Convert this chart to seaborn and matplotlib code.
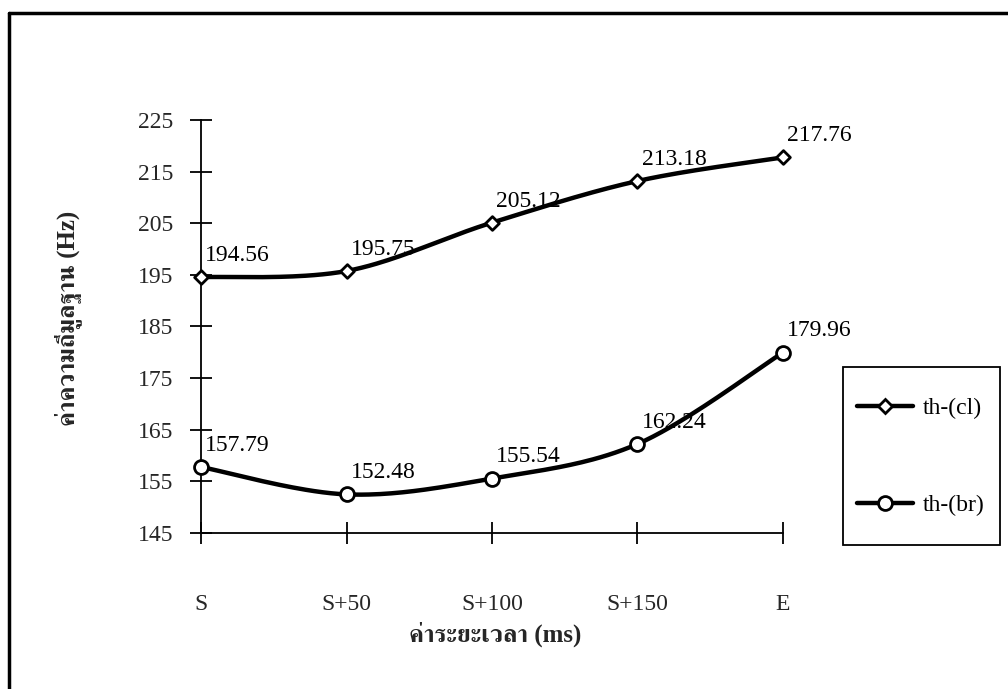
import numpy as np
import matplotlib
matplotlib.use("Agg")
import matplotlib.pyplot as plt
from matplotlib.lines import Line2D
from matplotlib.patches import Rectangle
import seaborn as sns

# data
categories = ["S", "S+50", "S+100", "S+150", "E"]
th_cl = [194.56, 195.75, 205.12, 213.18, 217.76]
th_br = [157.79, 152.48, 155.54, 162.24, 179.96]
series_names = ["th-(cl)", "th-(br)"]
y_ticks = [145, 155, 165, 175, 185, 195, 205, 215, 225]


def smooth(xv, yv, n=40):
    # excel style smoothed line (bezier through the points)
    p = np.column_stack([xv, yv]).astype(float)
    ext = np.vstack([p[0], p, p[-1]])
    out = []
    t = np.linspace(0, 1, n)[:, None]
    for i in range(len(p) - 1):
        p0, p1, p2, p3 = ext[i], ext[i + 1], ext[i + 2], ext[i + 3]
        c1 = p1 + (p2 - p0) / 6
        c2 = p2 - (p3 - p1) / 6
        seg = ((1 - t) ** 3) * p1 + 3 * ((1 - t) ** 2) * t * c1 + 3 * (1 - t) * t ** 2 * c2 + t ** 3 * p2
        out.append(seg)
    out = np.vstack(out)
    return out[:, 0], out[:, 1]


sns.set_theme(style="white")
plt.rcParams["font.family"] = ["Liberation Serif", "FreeSerif"]
plt.rcParams["text.color"] = "black"

fig = plt.figure(figsize=(10.08, 6.89), dpi=100)
ax = fig.add_axes([201 / 1008, 1 - 533 / 689, 582 / 1008, 413 / 689])

x = np.arange(len(categories))
markers = ["D", "o"]
msizes = [7, 10]
for vals, mk, ms in zip([th_cl, th_br], markers, msizes):
    sx, sy = smooth(x, vals)
    ax.plot(sx, sy, color="black", lw=3.2, solid_capstyle="round", zorder=2, clip_on=False)
    sns.scatterplot(x=x, y=vals, marker=mk, s=ms ** 2, color="white",
                    edgecolor="black", linewidth=2, zorder=3, ax=ax, legend=False,
                    clip_on=False)
    for xi, v in zip(x, vals):
        ax.annotate(f"{v:.2f}", (xi, v), xytext=(3, 8), textcoords="offset points",
                    ha="left", va="bottom", fontsize=17, zorder=4)

ax.set_xlim(0, 4)
ax.set_ylim(145, 225)
ax.set_yticks(y_ticks)
ax.set_xticks(x)
ax.set_xticklabels(categories)
for s in ["top", "right"]:
    ax.spines[s].set_visible(False)
for s in ["left", "bottom"]:
    ax.spines[s].set_color("black")
    ax.spines[s].set_linewidth(1.3)
ax.tick_params(axis="y", direction="inout", length=16, width=1.3, color="black",
               labelsize=17, pad=12, left=True)
ax.tick_params(axis="x", direction="inout", length=16, width=1.3, color="black",
               labelsize=17, pad=36, bottom=True)
ax.set_facecolor("none")

ax.set_ylabel("ค่าความถี่มูลฐาน (Hz)", fontsize=18, fontweight="bold")
ax.set_xlabel("ค่าระยะเวลา (ms)", fontsize=18, fontweight="bold")
ax.yaxis.set_label_coords(-0.205, 0.52)
ax.xaxis.set_label_coords(0.505, -0.215)

handles = [
    Line2D([], [], color="black", lw=3.2, marker="D", ms=7, mfc="white", mec="black", mew=2),
    Line2D([], [], color="black", lw=3.2, marker="o", ms=10, mfc="white", mec="black", mew=2),
]
# legend box drawn separately (taller than the entries need)
fig.add_artist(Rectangle((843 / 1008, 1 - 545 / 689), 157 / 1008, 178 / 689,
                         transform=fig.transFigure, fill=False, edgecolor="black", lw=1.3))
fig.legend(handles, series_names, loc="center",
           bbox_to_anchor=(921 / 1008, 1 - 457 / 689), fontsize=17,
           frameon=False, labelspacing=3.2, handlelength=2.35, handletextpad=0.42,
           borderpad=0, borderaxespad=0)

# outer chart border (scan is cropped at right and bottom)
fig.add_artist(Line2D([9 / 1008, 9 / 1008], [0, 1 - 13 / 689], color="black", lw=2.5))
fig.add_artist(Line2D([9 / 1008, 1], [1 - 13 / 689, 1 - 13 / 689], color="black", lw=2.5))

fig.savefig("out.png", dpi=100)
